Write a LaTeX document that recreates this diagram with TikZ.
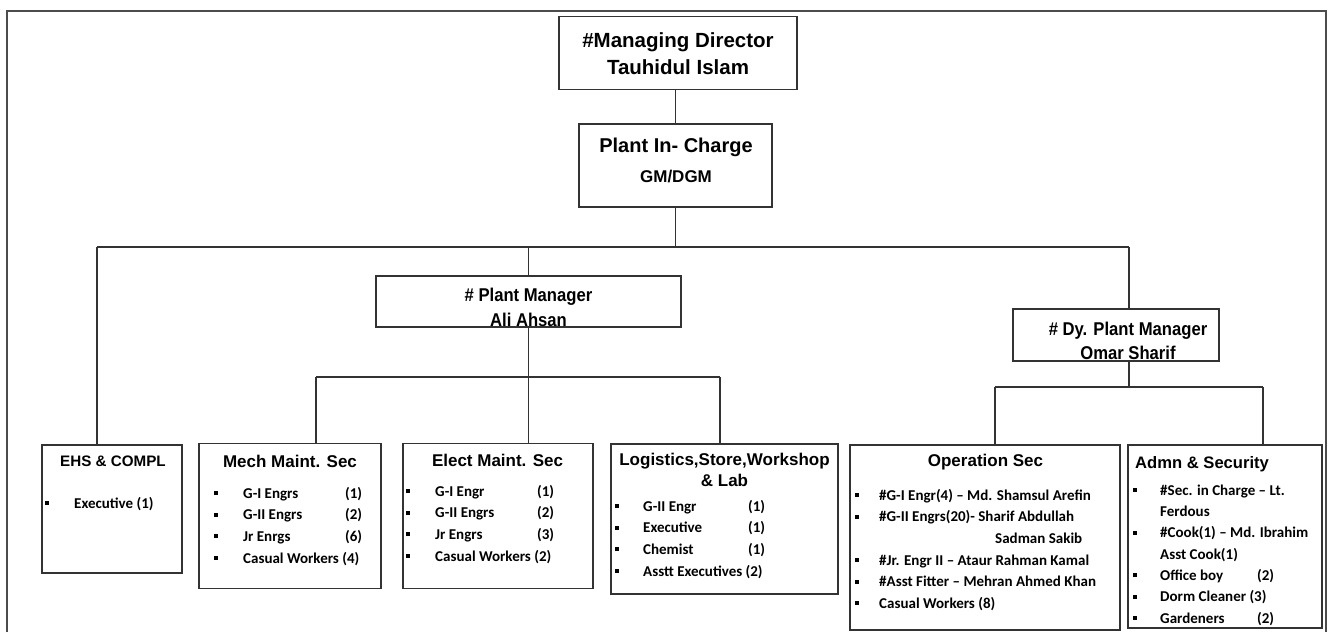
\documentclass[tikz,border=0pt]{standalone}
\usepackage{fontspec}
\setmainfont{Liberation Sans}
\newfontfamily\bodyfont{Carlito}
\newfontfamily\narrowfont{Liberation Sans}[FakeStretch=0.9]
\usepackage{tikz}

\newcommand{\bsq}[1][29pt]{\makebox[#1][l]{\raisebox{3pt}{\rule{4pt}{4pt}}}}
\newcommand{\lbl}[2]{\makebox[#1][l]{#2}}

\begin{document}
\begin{tikzpicture}[x=1pt, y=-1pt,
	box/.style={draw=black!80, line width=1.5pt, inner sep=0pt},
	link/.style={draw=black!80, line width=1.1pt},
	ttl/.style={inner sep=0pt},
	lst/.style={inner sep=0pt, anchor=north west, align=left, font=\bodyfont\bfseries\fontsize{15}{21.6}\selectfont}]
	\useasboundingbox (0,0) rectangle (1332,632);
	\draw[line width=1.5pt, black!70] (7,632) -- (7,11) -- (1326,11) -- (1326,632);

	\node (md) at (678,53) [box, minimum width=238, minimum height=73] {};
	\node (pic) at (675.5,165.5) [box, minimum width=193, minimum height=83] {};
	\node (pm) at (528.5,301.5) [box, minimum width=305, minimum height=51] {};
	\node (dpm) at (1116,335) [box, minimum width=206, minimum height=52] {};
	\node (ehs) at (112,509) [box, minimum width=140, minimum height=128] {};
	\node (mech) at (290,516) [box, minimum width=182, minimum height=145] {};
	\node (elect) at (498,516) [box, minimum width=190, minimum height=145] {};
	\node (log) at (724.5,519) [box, minimum width=227, minimum height=150] {};
	\node (ops) at (985,537.5) [box, minimum width=270, minimum height=185] {};
	\node (adm) at (1225,536.5) [box, minimum width=194, minimum height=183] {};

	\coordinate (busL) at (97,247);
	\coordinate (busR) at (1129,247);
	\coordinate (pmL) at (316,377);
	\coordinate (pmR) at (720,377);
	\coordinate (dyL) at (995,387);
	\coordinate (dyR) at (1263,387);

	\draw[link] (pic.north) -- (pic.north |- md.south)
		(pic.south) -- (pic.south |- busL)
		(busL) -- (busR)
		(busL) -- (busL |- ehs.north)
		(pm.north) -- (pm.north |- busL)
		(busR) -- (busR |- dpm.north);
	\draw[link] (pm.south) -- (pm.south |- pmL)
		(pmL) -- (pmR)
		(pmL) -- (pmL |- mech.north)
		(pm.south |- pmL) -- (pm.south |- elect.north)
		(pmR) -- (pmR |- log.north);
	\draw[link] (busR |- dpm.south) -- (busR |- dyL)
		(dyL) -- (dyR)
		(dyL) -- (dyL |- ops.north)
		(dyR) -- (dyR |- adm.north);

	\node (mdt) at (678,28.6) [ttl, anchor=north, align=center, font=\bfseries\fontsize{20.5}{26.7}\selectfont] {\strut\#Managing Director\\Tauhidul Islam};
	\node (pict) at (676,152.2) [ttl, anchor=base, font=\bfseries\fontsize{20}{24}\selectfont] {Plant In- Charge};
	\node (picd) at (676,182.7) [ttl, anchor=base, font=\bfseries\fontsize{17}{20}\selectfont] {GM/DGM};
	\node (pmt) at (528.5,284.5) [ttl, anchor=north, align=center, font=\narrowfont\bfseries\fontsize{18.5}{24.5}\selectfont] {\strut\# Plant Manager\\Ali Ahsan};
	\node (dpmt) at (1128,317.8) [ttl, anchor=north, align=center, font=\narrowfont\bfseries\fontsize{18.5}{24.5}\selectfont] {\strut\# Dy. Plant Manager\\Omar Sharif};

	\node (ehsh) at (113,466.7) [ttl, anchor=base, font=\bfseries\fontsize{15.2}{18}\selectfont] {EHS \& COMPL};
	\node (mechh) at (290,467) [ttl, anchor=base, font=\bfseries\fontsize{17}{20}\selectfont] {Mech Maint. Sec};
	\node (electh) at (497.5,466.7) [ttl, anchor=base, font=\bfseries\fontsize{17}{20}\selectfont] {Elect Maint. Sec};
	\node (logh) at (724.5,450) [ttl, anchor=north, align=center, font=\bfseries\fontsize{17}{21.5}\selectfont] {\strut Logistics,Store,Workshop\\\& Lab};
	\node (opsh) at (985.5,466.7) [ttl, anchor=base, font=\bfseries\fontsize{17}{20}\selectfont] {Operation Sec};
	\node (admh) at (1135,468) [ttl, anchor=base west, font=\bfseries\fontsize{16.6}{20}\selectfont] {Admn \& Security};

	\node (ehsl) at (45,492.9) [lst] {\strut\bsq Executive (1)};
	\node (mechl) at (214,482.9) [lst] {\strut\bsq\lbl{102pt}{G-I Engrs}(1)\\
		\bsq\lbl{102pt}{G-II Engrs}(2)\\
		\bsq\lbl{102pt}{Jr Enrgs}(6)\\
		\bsq Casual Workers (4)};
	\node (electl) at (406,480.9) [lst] {\strut\bsq\lbl{102pt}{G-I Engr}(1)\\
		\bsq\lbl{102pt}{G-II Engrs}(2)\\
		\bsq\lbl{102pt}{Jr Engrs}(3)\\
		\bsq Casual Workers (2)};
	\node (logl) at (615,495.9) [lst] {\strut\bsq[28pt]\lbl{105pt}{G-II Engr}(1)\\
		\bsq[28pt]\lbl{105pt}{Executive}(1)\\
		\bsq[28pt]\lbl{105pt}{Chemist}(1)\\
		\bsq[28pt]Asstt Executives (2)};
	\node (opsl) at (855,484.9) [lst] {\strut\bsq[24pt]\#G-I Engr(4) – Md. Shamsul Arefin\\
		\bsq[24pt]\#G-II Engrs(20)- Sharif Abdullah\\
		\hspace*{140pt}Sadman Sakib\\
		\bsq[24pt]\#Jr. Engr II – Ataur Rahman Kamal\\
		\bsq[24pt]\#Asst Fitter – Mehran Ahmed Khan\\
		\bsq[24pt]Casual Workers (8)};
	\node (adml) at (1133,480.1) [lst, font=\bodyfont\bfseries\fontsize{15}{21.3}\selectfont] {\strut\bsq[27pt]\#Sec. in Charge – Lt.\\
		\hspace*{27pt}Ferdous\\
		\bsq[27pt]\#Cook(1) – Md. Ibrahim\\
		\hspace*{27pt}Asst Cook(1)\\
		\bsq[27pt]\lbl{97pt}{Office boy}(2)\\
		\bsq[27pt]Dorm Cleaner (3)\\
		\bsq[27pt]\lbl{97pt}{Gardeners}(2)};
\end{tikzpicture}
\end{document}
